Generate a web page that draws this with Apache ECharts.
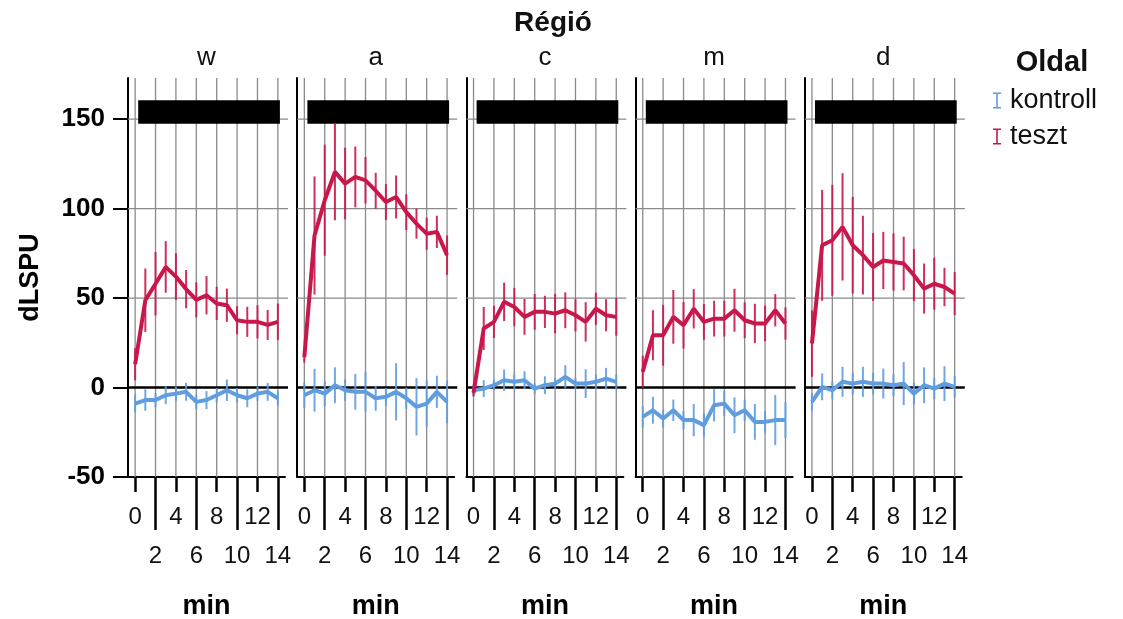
<!DOCTYPE html>
<html><head><meta charset="utf-8">
<script src="https://cdn.jsdelivr.net/npm/echarts@6/dist/echarts.min.js"></script>
<style>html,body{margin:0;padding:0;background:#fff}#c{width:1123px;height:619px}</style>
</head><body><div id="c"></div>
<script>
// ---------- data ----------
const regions = ['w', 'a', 'c', 'm', 'd'];
const minutes = [0, 1, 2, 3, 4, 5, 6, 7, 8, 9, 10, 11, 12, 13, 14];
const xLabelsRow1 = [0, 4, 8, 12];
const xLabelsRow2 = [2, 6, 10, 14];
const xGridValues = [0, 2, 4, 6, 8, 10, 12, 14];
const yTickValues = [-50, 0, 50, 100, 150];
const yGridValues = [50, 100, 150];
const zeroLineValue = [0];
const stimulusBar = [0.3, 14.2, 147.5, 160.5]; // x from, x to, y from, y to

const tesztMean_w = [13, 48.8, 58, 67.4, 62, 55, 49, 51.6, 47, 46, 37.6, 36.7, 36.7, 35, 36.7];
const tesztErr_w = [9, 17.7, 17.7, 14.4, 13, 10.7, 9.8, 10.7, 9.3, 9.3, 7.9, 8.4, 9.3, 8.4, 10.2];
const kontrollMean_w = [-9, -7, -7, -4.3, -3.4, -2.4, -8, -7, -4.3, -1.5, -4.3, -6, -3.4, -2.4, -6];
const kontrollErr_w = [5, 6, 4, 5, 4, 5, 4, 5, 4, 6, 4, 5, 4, 5, 4];

const tesztMean_a = [17, 85, 104.7, 120.5, 114, 117.7, 115.8, 110, 103.7, 106.5, 98, 91.6, 86, 87, 74];
const tesztErr_a = [3, 33, 31, 27, 20, 17, 13, 10, 10, 12, 10, 8.4, 9, 9, 11];
const kontrollMean_a = [-4.3, -1.5, -3.4, 1.3, -1.5, -2.4, -2.4, -6, -5.2, -2.4, -6, -10.8, -9, -2.4, -8];
const kontrollErr_a = [7, 12, 7, 10, 6, 10, 11, 7, 5, 16, 6, 16, 13, 9, 12];

const tesztMean_c = [-3, 33, 36.7, 47.9, 45, 39.5, 42.3, 42.3, 41.3, 43.2, 40.4, 36.7, 44, 40.4, 39.5];
const tesztErr_c = [2, 12, 9, 10.7, 10.7, 10, 10, 9, 11, 10, 9, 11, 9, 9, 10.5];
const kontrollMean_c = [-1.5, -0.6, 1.3, 4.1, 3.2, 4.1, -0.6, 1.3, 2.2, 6, 2.2, 2.2, 3.2, 5, 3.2];
const kontrollErr_c = [3, 4.7, 3, 6, 4, 5, 3, 5, 3, 6.5, 3, 8, 4, 6, 4];

const tesztMean_m = [8.8, 29.2, 29.2, 39.5, 34.8, 44, 36.7, 38.5, 38.5, 43.2, 37.6, 35.8, 35.8, 43.2, 35.8];
const tesztErr_m = [9, 14, 17, 15, 13, 11, 10, 10, 10, 12, 10, 11, 10, 9, 9];
const kontrollMean_m = [-16.4, -12.7, -17.3, -12.7, -18.2, -18.2, -21, -9.9, -9, -15.5, -12.7, -19.2, -19.2, -18.2, -18.2];
const kontrollErr_m = [6, 7.5, 5, 6, 5, 9, 6.5, 9, 7, 10, 6, 10, 6, 14, 10];

const tesztMean_d = [24.6, 79.5, 82.3, 89.8, 79.5, 74, 67.4, 71, 70.2, 69.3, 62.8, 55.3, 58, 56.2, 52.5];
const tesztErr_d = [18.6, 31, 31, 30, 27, 22, 19, 16, 16, 15, 14.5, 14, 14.5, 10.7, 12];
const kontrollMean_d = [-8, 0.4, -1.5, 3.2, 2.2, 3.2, 2.2, 2.2, 1.3, 2.2, -3.4, 1.3, -0.6, 2.2, 0.4];
const kontrollErr_d = [5, 7.5, 5, 8.4, 6, 8.4, 6, 8.4, 6, 12, 6, 10, 6, 9.7, 6];

// ---------- assembly ----------
const panelData = {
  w: { tm: tesztMean_w, te: tesztErr_w, km: kontrollMean_w, ke: kontrollErr_w },
  a: { tm: tesztMean_a, te: tesztErr_a, km: kontrollMean_a, ke: kontrollErr_a },
  c: { tm: tesztMean_c, te: tesztErr_c, km: kontrollMean_c, ke: kontrollErr_c },
  m: { tm: tesztMean_m, te: tesztErr_m, km: kontrollMean_m, ke: kontrollErr_m },
  d: { tm: tesztMean_d, te: tesztErr_d, km: kontrollMean_d, ke: kontrollErr_d }
};

const FONT = "'Liberation Sans', Arial, Helvetica, sans-serif";
const RED = '#c8174a';
const BLUE = '#5f9ddf';
const GRIDCOL = '#8a8a8a';
const X_MIN = -0.7, X_MAX = 14.7, Y_MIN = -50, Y_MAX = 173;
const GRID_TOP = 78, GRID_H = 399, GRID_W = 157, GRID_LEFT0 = 128, GRID_STEP = 169.2;

const grids = [], xAxes = [], yAxes = [], series = [], graphics = [];

function vLine(params, api) {
  const cs = params.coordSys;
  const x = api.coord([api.value(0), 0])[0];
  return { type: 'line', shape: { x1: x, y1: cs.y, x2: x, y2: cs.y + cs.height },
    style: { stroke: GRIDCOL, lineWidth: 1.3 } };
}
function hLineMaker(color, width) {
  return function (params, api) {
    const cs = params.coordSys;
    const y = api.coord([0, api.value(1)])[1];
    return { type: 'line', shape: { x1: cs.x, y1: y, x2: cs.x + cs.width + 3, y2: y },
      style: { stroke: color, lineWidth: width } };
  };
}
function errMaker(color) {
  return function (params, api) {
    const p1 = api.coord([api.value(0), api.value(1)]);
    const p2 = api.coord([api.value(0), api.value(2)]);
    return { type: 'line', shape: { x1: p1[0], y1: p1[1], x2: p2[0], y2: p2[1] },
      style: { stroke: color, lineWidth: 2, opacity: 0.9 } };
  };
}
function barRender(params, api) {
  const p1 = api.coord([api.value(0), api.value(3)]);
  const p2 = api.coord([api.value(1), api.value(2)]);
  return { type: 'rect', shape: { x: p1[0], y: p1[1], width: p2[0] - p1[0], height: p2[1] - p1[1] },
    style: { fill: '#000' } };
}

regions.forEach(function (r, i) {
  const left = GRID_LEFT0 + i * GRID_STEP;
  grids.push({ left: left, top: GRID_TOP, width: GRID_W, height: GRID_H,
    containLabel: false, outerBoundsMode: 'none' });
  const first = i === 0;
  xAxes.push({
    type: 'value', gridIndex: i, position: 'bottom', min: X_MIN, max: X_MAX,
    axisLine: { show: true, onZero: false, lineStyle: { color: '#000', width: 2 } },
    axisTick: { show: true, customValues: xLabelsRow1, length: 15, lineStyle: { color: '#000', width: 2.5 } },
    axisLabel: { show: true, customValues: xLabelsRow1, margin: 28, fontSize: 24, color: '#111', fontFamily: FONT },
    splitLine: { show: false },
    name: 'min', nameLocation: 'middle', nameGap: 116,
    nameTextStyle: { fontSize: 27, fontWeight: 'bold', color: '#000', fontFamily: FONT }
  });
  xAxes.push({
    type: 'value', gridIndex: i, position: 'bottom', min: X_MIN, max: X_MAX,
    axisLine: { show: false, onZero: false },
    axisTick: { show: true, customValues: xLabelsRow2, length: 53, lineStyle: { color: '#000', width: 2.5 } },
    axisLabel: { show: true, customValues: xLabelsRow2, margin: 67, fontSize: 24, color: '#111', fontFamily: FONT },
    splitLine: { show: false }
  });
  yAxes.push({
    type: 'value', gridIndex: i, min: Y_MIN, max: Y_MAX,
    axisLine: { show: true, onZero: false, lineStyle: { color: '#000', width: 2 } },
    axisTick: { show: first, customValues: yTickValues, length: 15, lineStyle: { color: '#000', width: 2 } },
    axisLabel: { show: first, customValues: yTickValues, margin: 23, fontSize: 26, fontWeight: 'bold', color: '#000', fontFamily: FONT },
    splitLine: { show: false },
    name: first ? 'dLSPU' : '', nameLocation: 'middle', nameGap: 84, nameRotate: 90,
    nameTextStyle: { fontSize: 27, fontWeight: 'bold', color: '#000', fontFamily: FONT }
  });
  const xi = 2 * i, yi = i;
  const d = panelData[r];
  series.push({ type: 'custom', xAxisIndex: xi, yAxisIndex: yi, z: 1, silent: true,
    renderItem: vLine, data: xGridValues.map(v => [v, 0]) });
  series.push({ type: 'custom', xAxisIndex: xi, yAxisIndex: yi, z: 1, silent: true,
    renderItem: hLineMaker(GRIDCOL, 1.3), data: yGridValues.map(v => [0, v]) });
  series.push({ type: 'custom', xAxisIndex: xi, yAxisIndex: yi, z: 2, silent: true,
    renderItem: hLineMaker('#000', 2.6), data: zeroLineValue.map(v => [0, v]) });
  series.push({ type: 'custom', xAxisIndex: xi, yAxisIndex: yi, z: 2, silent: true,
    renderItem: barRender, data: [stimulusBar] });
  series.push({ type: 'custom', name: 'kontroll', xAxisIndex: xi, yAxisIndex: yi, z: 3, silent: true,
    itemStyle: { color: BLUE },
    renderItem: errMaker(BLUE), data: minutes.map((t, j) => [t, d.km[j] - d.ke[j], d.km[j] + d.ke[j]]) });
  series.push({ type: 'custom', name: 'teszt', xAxisIndex: xi, yAxisIndex: yi, z: 3, silent: true,
    itemStyle: { color: RED },
    renderItem: errMaker(RED), data: minutes.map((t, j) => [t, d.tm[j] - d.te[j], d.tm[j] + d.te[j]]) });
  series.push({ type: 'line', name: 'kontroll-line', xAxisIndex: xi, yAxisIndex: yi, z: 4,
    showSymbol: false, silent: true, animation: false,
    lineStyle: { color: BLUE, width: 4 }, itemStyle: { color: BLUE },
    data: minutes.map((t, j) => [t, d.km[j]]) });
  series.push({ type: 'line', name: 'teszt-line', xAxisIndex: xi, yAxisIndex: yi, z: 4,
    showSymbol: false, silent: true, animation: false,
    lineStyle: { color: RED, width: 4 }, itemStyle: { color: RED },
    data: minutes.map((t, j) => [t, d.tm[j]]) });
  graphics.push({ type: 'text', x: left + GRID_W / 2, y: 58,
    style: { text: r, font: '26px ' + FONT, fill: '#111', align: 'center', verticalAlign: 'middle' } });
});

graphics.push({ type: 'text', x: 553, y: 23,
  style: { text: 'Régió', font: 'bold 28px ' + FONT, fill: '#111', align: 'center', verticalAlign: 'middle' } });
graphics.push({ type: 'text', x: 1052, y: 63,
  style: { text: 'Oldal', font: 'bold 29px ' + FONT, fill: '#111', align: 'center', verticalAlign: 'middle' } });

const ibeam = 'path://M0,0H8V1.6H4.8V14.4H8V16H0V14.4H3.2V1.6H0Z';

const option = {
  animation: false,
  backgroundColor: '#fff',
  grid: grids, xAxis: xAxes, yAxis: yAxes, series: series,
  legend: {
    orient: 'vertical', left: 993, top: 87, itemWidth: 8, itemHeight: 18, itemGap: 9,
    padding: 0, selectedMode: false,
    textStyle: { fontSize: 27, color: '#111', fontFamily: FONT, padding: [0, 0, 0, 4] },
    data: [
      { name: 'kontroll', icon: ibeam, itemStyle: { color: BLUE } },
      { name: 'teszt', icon: ibeam, itemStyle: { color: RED } }
    ]
  },
  graphic: graphics
};
const chart = echarts.init(document.getElementById('c'), null, { renderer: 'canvas' });
chart.setOption(option);
</script></body></html>
